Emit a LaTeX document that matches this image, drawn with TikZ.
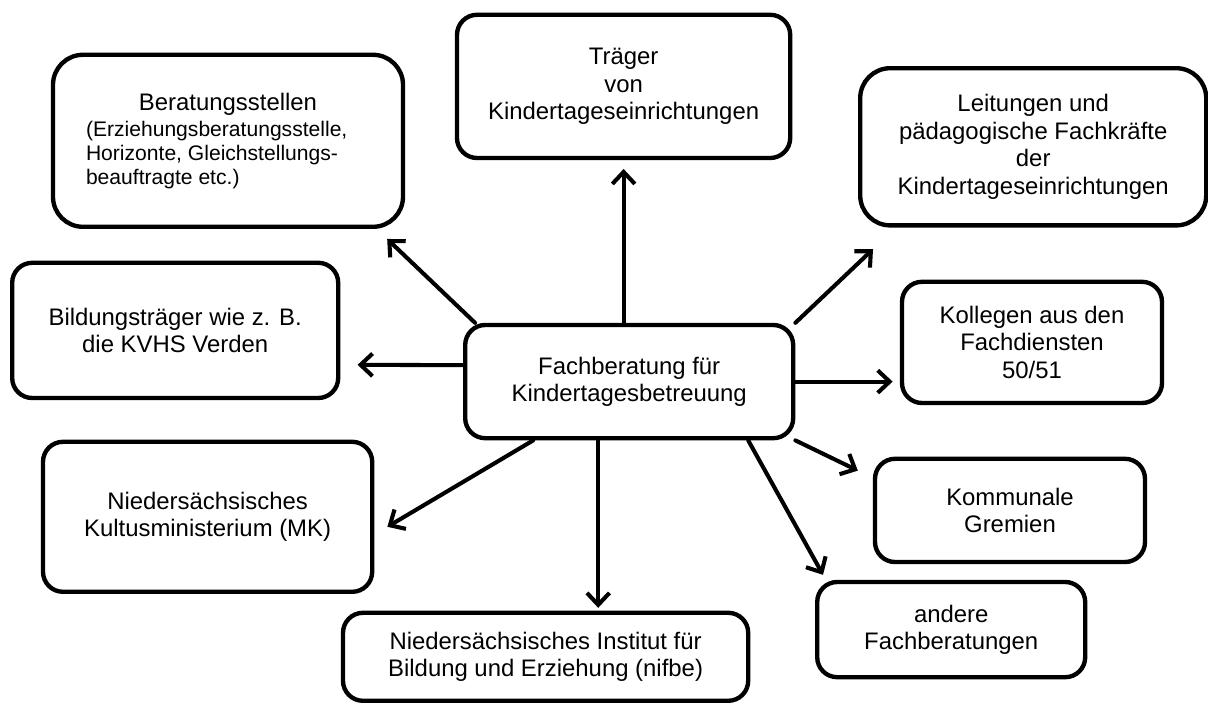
\documentclass[tikz,border=0pt]{standalone}
\usepackage{fontspec}
\setmainfont{Liberation Sans}
\usetikzlibrary{arrows.meta}

\begin{document}
\begin{tikzpicture}[x=1cm,y=1cm,
  box/.style={draw,line width=3.1pt,rounded corners=0.5cm,fill=white,align=center,inner sep=0pt,font=\fontsize{17}{19.5}\selectfont},
  arr/.style={line width=2.9pt,line cap=round,-{Straight Barb[length=8.5pt,width=16pt]}}]
\path[use as bounding box] (0,0) rectangle (30.20,17.60);
% centre
\node[box,minimum width=8.20cm,minimum height=2.83cm] (fach) at (15.73,8.06) {Fachberatung für\\Kindertagesbetreuung};
% partners round it
\node[box,rounded corners=0.75cm,minimum width=8.75cm,minimum height=4.30cm,align=left] (ber) at (5.70,14.08)
  {\makebox[7.1cm][c]{Beratungsstellen}\\[-0.5pt]
   {\fontsize{15}{17}\selectfont(Erziehungsberatungsstelle,}\\[-2.5pt]
   {\fontsize{15}{17}\selectfont Horizonte, Gleichstellungs-}\\[-2.5pt]
   {\fontsize{15}{17}\selectfont beauftragte etc.)}};
\node[box,minimum width=8.33cm,minimum height=3.58cm] (trae) at (15.59,15.44) {Träger\\von\\Kindertageseinrichtungen};
\node[box,rounded corners=0.75cm,minimum width=8.65cm,minimum height=3.93cm] (leit) at (25.83,13.93) {Leitungen und\\pädagogische Fachkräfte\\der\\Kindertageseinrichtungen};
\node[box,minimum width=8.15cm,minimum height=3.38cm] (bild) at (4.38,9.34) {Bildungsträger wie z. B.\\die KVHS Verden};
\node[box,minimum width=8.23cm,minimum height=3.75cm] (mk) at (5.19,4.68) {Niedersächsisches\\Kultusministerium (MK)};
\node[box,minimum width=6.50cm,minimum height=3.03cm] (koll) at (25.80,9.04) {Kollegen aus den\\Fachdiensten\\50/51};
\node[box,minimum width=6.75cm,minimum height=2.58cm] (komm) at (25.25,4.84) {Kommunale\\Gremien};
\node[box,minimum width=6.70cm,minimum height=2.38cm] (andere) at (23.78,1.86) {andere\\Fachberatungen};
\node[box,minimum width=10.13cm,minimum height=2.20cm] (nif) at (13.64,1.18) {Niedersächsisches Institut für\\Bildung und Erziehung (nifbe)};
% arrows
\draw[arr,shorten >=0.22cm] (fach.north -| trae.south) -- (trae.south);
\draw[arr] ([xshift=0.3cm]fach.north west) -- ([xshift=-0.45cm,yshift=-0.25cm]ber.south east);
\draw[arr] (fach.north east) -- ([xshift=0.375cm,yshift=-0.54cm]leit.south west);
\draw[arr] ([yshift=0.41cm]fach.west) -- ([xshift=0.43cm,yshift=-0.86cm]bild.east);
\draw[arr,shorten >=0.18cm] (fach.east) -- (fach.east -| koll.west);
\draw[arr] (fach.south east) -- ([xshift=-0.375cm,yshift=-0.35cm]komm.north west);
\draw[arr] ([xshift=2.975cm]fach.south) -- ([xshift=0.2cm,yshift=0.125cm]andere.north west);
\draw[arr] ([xshift=-2.4cm]fach.south) -- ([xshift=0.325cm,yshift=-0.25cm]mk.east);
\draw[arr,shorten >=0.07cm] ([xshift=-0.775cm]fach.south) -- ([xshift=-0.775cm]fach.south |- nif.north);
\end{tikzpicture}
\end{document}
